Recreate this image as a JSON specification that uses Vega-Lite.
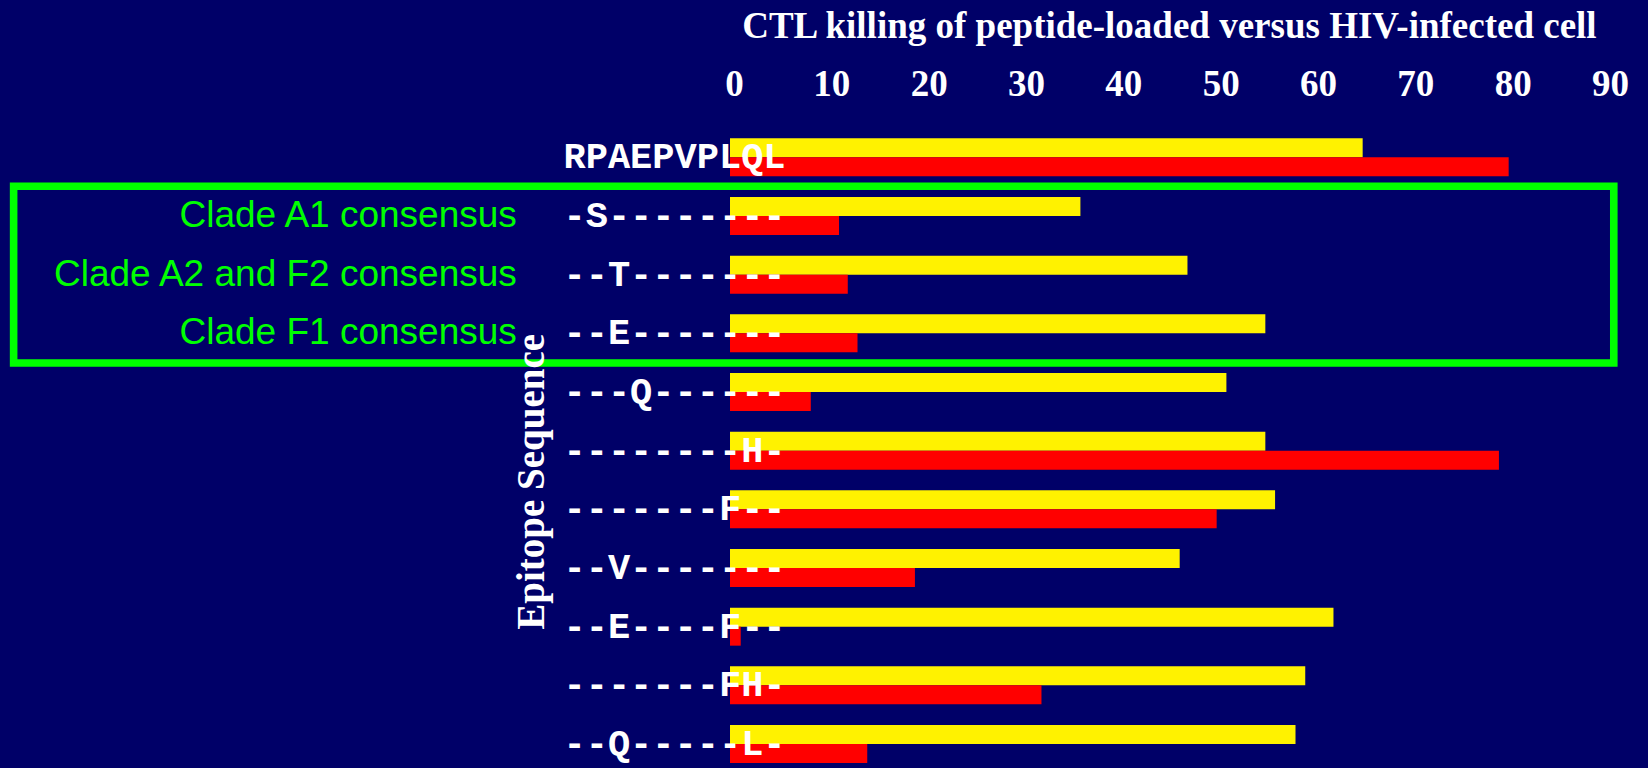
{
  "$schema": "https://vega.github.io/schema/vega-lite/v6.json",
  "width": 876,
  "height": 624.7,
  "autosize": {"type": "none"},
  "padding": {"left": 730, "top": 138.3, "right": 42, "bottom": 5},
  "background": "#000068",
  "config": {"view": {"stroke": null}},
  "datasets": {
    "bars": [
      {"epitope": "RPAEPVPLQL", "series": "Peptide-loaded", "killing": 65},
      {"epitope": "RPAEPVPLQL", "series": "HIV-infected", "killing": 80},
      {"epitope": "-S--------", "series": "Peptide-loaded", "killing": 36},
      {"epitope": "-S--------", "series": "HIV-infected", "killing": 11.2},
      {"epitope": "--T-------", "series": "Peptide-loaded", "killing": 47},
      {"epitope": "--T-------", "series": "HIV-infected", "killing": 12.1},
      {"epitope": "--E-------", "series": "Peptide-loaded", "killing": 55},
      {"epitope": "--E-------", "series": "HIV-infected", "killing": 13.1},
      {"epitope": "---Q------", "series": "Peptide-loaded", "killing": 51},
      {"epitope": "---Q------", "series": "HIV-infected", "killing": 8.3},
      {"epitope": "--------H-", "series": "Peptide-loaded", "killing": 55},
      {"epitope": "--------H-", "series": "HIV-infected", "killing": 79},
      {"epitope": "-------F--", "series": "Peptide-loaded", "killing": 56},
      {"epitope": "-------F--", "series": "HIV-infected", "killing": 50},
      {"epitope": "--V-------", "series": "Peptide-loaded", "killing": 46.2},
      {"epitope": "--V-------", "series": "HIV-infected", "killing": 19},
      {"epitope": "--E----F--", "series": "Peptide-loaded", "killing": 62},
      {"epitope": "--E----F--", "series": "HIV-infected", "killing": 1.1},
      {"epitope": "-------FH-", "series": "Peptide-loaded", "killing": 59.1},
      {"epitope": "-------FH-", "series": "HIV-infected", "killing": 32},
      {"epitope": "--Q-----L-", "series": "Peptide-loaded", "killing": 58.1},
      {"epitope": "--Q-----L-", "series": "HIV-infected", "killing": 14.1}
    ],
    "clades": [
      {"epitope": "-S--------", "label": "Clade A1 consensus"},
      {"epitope": "--T-------", "label": "Clade A2 and F2 consensus"},
      {"epitope": "--E-------", "label": "Clade F1 consensus"}
    ],
    "box": [
      {"from": "RPAEPVPLQL", "to": "--E-------"}
    ]
  },
  "layer": [
    {
      "data": {"name": "bars"},
      "mark": {"type": "bar"},
      "encoding": {
        "y": {
          "field": "epitope",
          "type": "nominal",
          "scale": {
            "domain": ["RPAEPVPLQL", "-S--------", "--T-------", "--E-------", "---Q------", "--------H-", "-------F--", "--V-------", "--E----F--", "-------FH-", "--Q-----L-"],
            "paddingInner": 0.352,
            "paddingOuter": 0
          },
          "axis": {
            "orient": "left",
            "title": "Epitope Sequence",
            "ticks": false,
            "tickSize": 0,
            "domain": false,
            "grid": false,
            "labelAlign": "left",
            "labelPadding": 167,
            "labelFont": "Liberation Mono",
            "labelFontWeight": "bold",
            "labelFontSize": 37,
            "labelColor": "white",
            "labelBaseline": "middle",
            "labelLimit": 1000,
            "labelOverlap": false,
            "zindex": 1,
            "titleFont": "Liberation Serif",
            "titleFontWeight": "bold",
            "titleFontSize": 39,
            "titleColor": "white",
            "titleAngle": 270,
            "titleX": -187,
            "titleY": 343,
            "titleAlign": "center",
            "titleBaseline": "alphabetic"
          }
        },
        "yOffset": {
          "field": "series",
          "type": "nominal",
          "sort": ["Peptide-loaded", "HIV-infected"],
          "scale": {"paddingInner": 0, "paddingOuter": 0}
        },
        "x": {
          "field": "killing",
          "type": "quantitative",
          "scale": {"domain": [0, 90], "nice": false},
          "axis": {
            "orient": "top",
            "values": [0, 10, 20, 30, 40, 50, 60, 70, 80, 90],
            "ticks": false,
            "domain": false,
            "grid": false,
            "labelFont": "Liberation Serif",
            "labelFontWeight": "bold",
            "labelFontSize": 37,
            "labelColor": "white",
            "labelPadding": 43,
            "labelBaseline": "alphabetic",
            "labelOffset": 4,
            "labelFlush": false,
            "labelOverlap": false,
            "title": "CTL killing of peptide-loaded versus HIV-infected cell",
            "titleFont": "Liberation Serif",
            "titleFontWeight": "bold",
            "titleFontSize": 37,
            "titleColor": "white",
            "titleX": 11.7,
            "titleY": -101,
            "titleAlign": "left",
            "titleBaseline": "alphabetic"
          }
        },
        "color": {
          "field": "series",
          "type": "nominal",
          "scale": {"domain": ["Peptide-loaded", "HIV-infected"], "range": ["#fff200", "#ff0000"]},
          "legend": null
        }
      }
    },
    {
      "data": {"name": "clades"},
      "mark": {"type": "text", "align": "right", "baseline": "middle", "font": "Liberation Sans", "fontSize": 37, "color": "#00ff00"},
      "encoding": {
        "y": {"field": "epitope", "type": "nominal"},
        "x": {"datum": -21.9, "type": "quantitative"},
        "text": {"field": "label", "type": "nominal"}
      }
    },
    {
      "data": {"name": "box"},
      "mark": {"type": "rect", "filled": false, "stroke": "#00ff00", "strokeWidth": 7.6},
      "encoding": {
        "y": {"field": "from", "type": "nominal", "bandPosition": 1.263},
        "y2": {"field": "to", "bandPosition": 1.28},
        "x": {"datum": -73.6, "type": "quantitative"},
        "x2": {"datum": 90.8}
      }
    }
  ]
}
